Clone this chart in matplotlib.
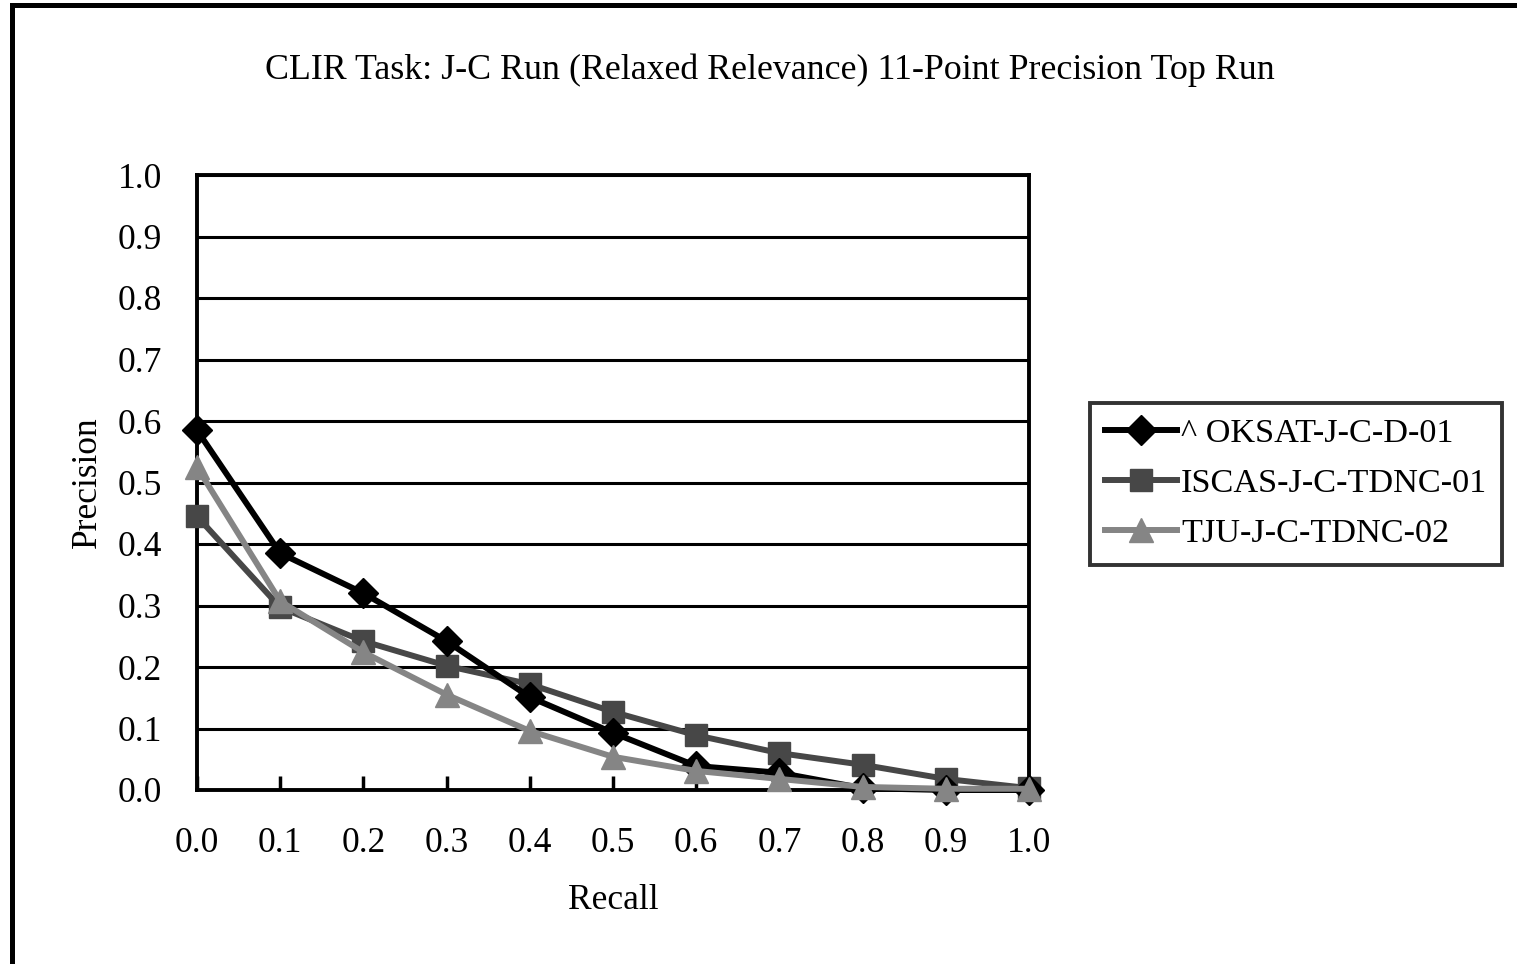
import matplotlib
matplotlib.use("Agg")
import matplotlib.pyplot as plt
from matplotlib.lines import Line2D

# 11-point interpolated precision at each recall level
recall = [0.0, 0.1, 0.2, 0.3, 0.4, 0.5, 0.6, 0.7, 0.8, 0.9, 1.0]
oksat = [0.585, 0.385, 0.320, 0.242, 0.151, 0.093, 0.039, 0.028, 0.003, 0.000, 0.000]
iscas = [0.445, 0.297, 0.242, 0.202, 0.172, 0.127, 0.089, 0.060, 0.041, 0.018, 0.003]
tju = [0.525, 0.307, 0.224, 0.155, 0.096, 0.054, 0.031, 0.018, 0.005, 0.002, 0.002]

run_names = ["^ OKSAT-J-C-D-01", "ISCAS-J-C-TDNC-01", "TJU-J-C-TDNC-02"]
tick_labels = ["0.0", "0.1", "0.2", "0.3", "0.4", "0.5", "0.6", "0.7", "0.8", "0.9", "1.0"]

plt.rcParams["font.family"] = ["Liberation Serif", "DejaVu Serif"]

W, H = 1517, 964
fig = plt.figure(figsize=(W / 100, H / 100), dpi=100)

# plot area in pixel coordinates
left, right, top, bottom = 197, 1029, 175, 790
ax = fig.add_axes([left / W, 1 - bottom / H, (right - left) / W, (bottom - top) / H])

ax.plot(recall, oksat, color="black", lw=4.3, marker="D", ms=15, mec="black", label=run_names[0], clip_on=False, zorder=5)
ax.plot(recall, iscas, color="#474747", lw=4.3, marker="s", ms=16, mec="#474747", label=run_names[1], clip_on=False, zorder=4)
ax.plot(recall, tju, color="#858585", lw=4.3, marker="^", ms=17, mec="#858585", label=run_names[2], clip_on=False, zorder=6)

ax.set_xlim(0, 1)
ax.set_ylim(0, 1)
ax.set_xticks(recall)
ax.set_xticklabels(tick_labels)
ax.set_yticks(recall)
ax.set_yticklabels(tick_labels)
ax.tick_params(axis="x", direction="in", length=10, width=2.5, pad=27, labelsize=25.5)
ax.tick_params(axis="y", length=0, pad=25, labelsize=25.5)
ax.grid(axis="y", color="black", lw=2.2)
ax.set_axisbelow(True)
for sp in ax.spines.values():
    sp.set_linewidth(2.8)
    sp.set_color("black")

ax.set_xlabel("Recall", fontsize=25.5, labelpad=17)
ax.set_ylabel("Precision", fontsize=25.5, labelpad=10)

fig.text(770 / W, 1 - 70 / H, "CLIR Task: J-C Run (Relaxed Relevance) 11-Point Precision Top Run",
         ha="center", va="center", fontsize=25.8)

leg = ax.legend(loc="upper left", bbox_to_anchor=(1090 / W, 1 - 403 / H), bbox_transform=fig.transFigure,
                fontsize=24.7, frameon=True, fancybox=False, edgecolor="black",
                handlelength=2.1, handletextpad=0.1, labelspacing=0.55, borderpad=0.45, borderaxespad=0)
leg.get_frame().set_linewidth(2.8)

# outer chart border (right and bottom edges run off the figure)
fig.add_artist(Line2D([12 / W, 12 / W], [0, 1 - 5 / H], transform=fig.transFigure, color="black", lw=3.6))
fig.add_artist(Line2D([12 / W, 1], [1 - 5 / H, 1 - 5 / H], transform=fig.transFigure, color="black", lw=3.6))

fig.savefig("out.png", dpi=100)
